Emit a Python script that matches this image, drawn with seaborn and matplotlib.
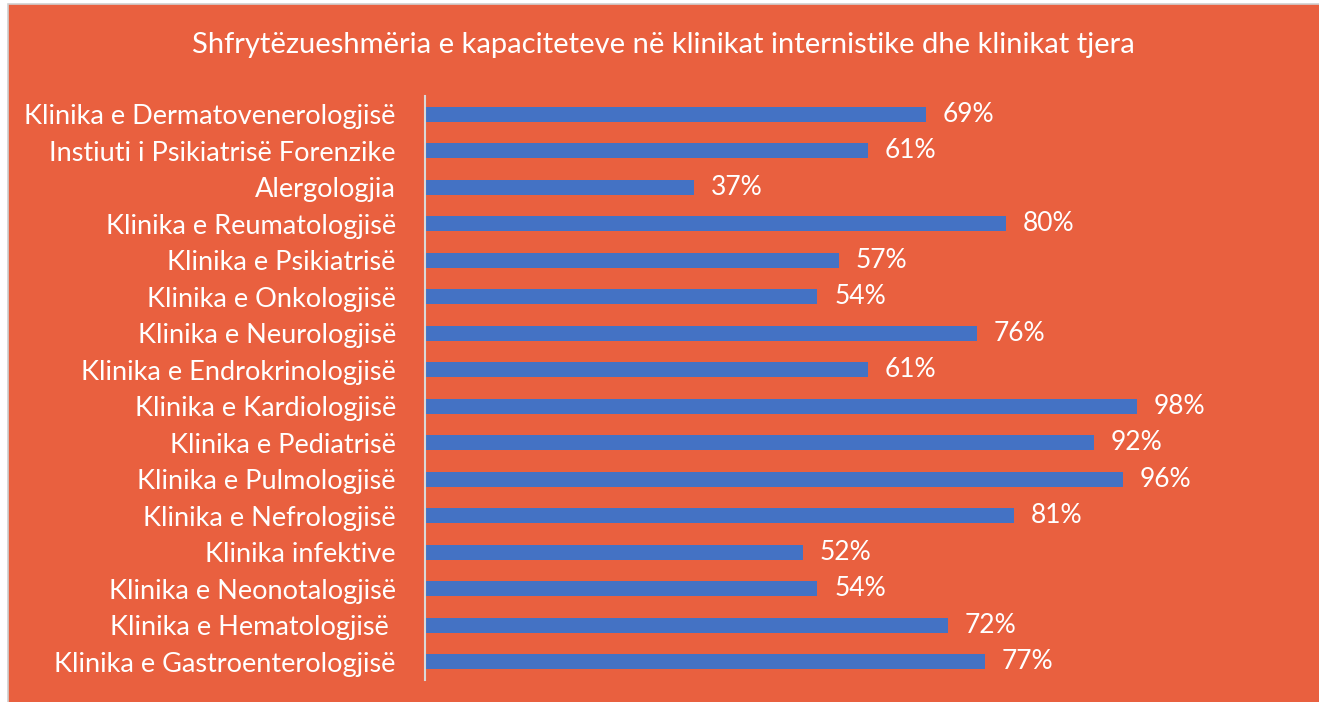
import pandas as pd
import matplotlib.pyplot as plt
import seaborn as sns
from matplotlib.patches import Rectangle

# data (top to bottom)
klinikat = [
    'Klinika e Dermatovenerologjisë',
    'Instiuti i Psikiatrisë Forenzike',
    'Alergologjia',
    'Klinika e Reumatologjisë',
    'Klinika e Psikiatrisë',
    'Klinika e Onkologjisë',
    'Klinika e Neurologjisë',
    'Klinika e Endrokrinologjisë',
    'Klinika e Kardiologjisë',
    'Klinika e Pediatrisë',
    'Klinika e Pulmologjisë',
    'Klinika e Nefrologjisë',
    'Klinika infektive',
    'Klinika e Neonotalogjisë',
    'Klinika e Hematologjisë ',
    'Klinika e Gastroenterologjisë',
]
shfrytezimi = [0.69, 0.61, 0.37, 0.80, 0.57, 0.54, 0.76, 0.61,
               0.98, 0.92, 0.96, 0.81, 0.52, 0.54, 0.72, 0.77]

df = pd.DataFrame({'klinika': klinikat, 'vlera': shfrytezimi})

bg = '#E9603F'
blue = '#4472C4'

sns.set_theme(style='white')
plt.rcParams['font.family'] = ['Lato', 'DejaVu Sans']

fig = plt.figure(figsize=(13.19, 7.02), dpi=100)
fig.patch.set_facecolor('white')
# orange chart area with a thin grey frame
frame = Rectangle((8 / 1319, -0.01), 1.0, 1 - 4 / 702 + 0.01,
                  transform=fig.transFigure, facecolor=bg,
                  edgecolor='#D0D0D0', linewidth=1.2, zorder=-10)
fig.patches.append(frame)

ax = fig.add_axes([425 / 1319, 22 / 702, 872 / 1319, 584 / 702])
ax.set_facecolor('none')

sns.barplot(data=df, x='vlera', y='klinika', orient='h', color=blue,
            saturation=1, width=0.4, linewidth=0, ax=ax)

for c in ax.containers:
    ax.bar_label(c, labels=[f'{v:.0%}' for v in shfrytezimi], padding=12,
                 color='white', fontsize=19)

ax.set_xlim(0, 1.2)
ax.set_xlabel('')
ax.set_ylabel('')
ax.set_xticks([])
ax.tick_params(axis='y', length=0, pad=21, labelsize=19.5, labelcolor='white')
for s in ['top', 'right', 'bottom']:
    ax.spines[s].set_visible(False)
ax.spines['left'].set_color('#D9D9D9')
ax.spines['left'].set_linewidth(1.5)

fig.text(663 / 1319, 1 - 45 / 702,
         'Shfrytëzueshmëria e kapaciteteve në klinikat internistike dhe klinikat tjera',
         ha='center', va='center', color='white', fontsize=21)

fig.savefig('out.png', dpi=100, facecolor=fig.get_facecolor())
